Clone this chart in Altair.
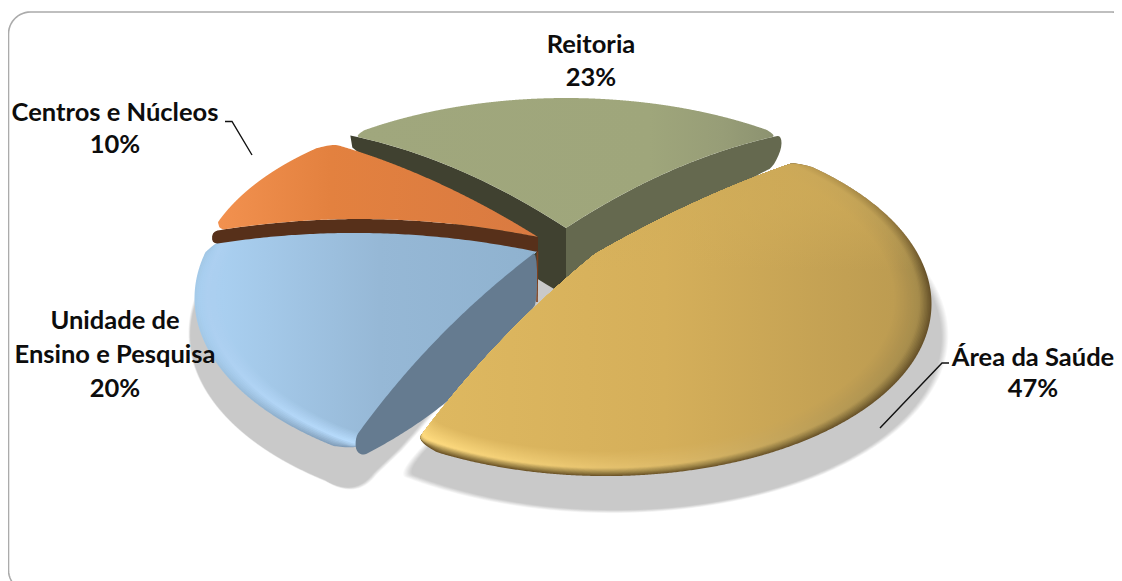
import math
import numpy as np
import altair as alt

# ---- chart values -------------------------------------------------------
CATEGORIES = ["Reitoria", "Área da Saúde", "Unidade de Ensino e Pesquisa", "Centros e Núcleos"]
SHARES = [23, 47, 20, 10]

# ---- view geometry (tilted, exploded disc), separate from the values ----
PAGE_W, PAGE_H = 1106, 573
START = -48                      # where the first slice starts, degrees clockwise from top
# the perspective of the original bends each boundary a little
BEND = {"Reitoria": (-0.5, 13.5), "Área da Saúde": (14, 3),
        "Unidade de Ensino e Pesquisa": (1, -3), "Centros e Núcleos": (-4, 0)}
APEX = {"Reitoria": (566, 228), "Área da Saúde": (595, 254),
        "Unidade de Ensino e Pesquisa": (537, 251), "Centros e Núcleos": (538, 237)}
# half width, shear, height factor of each slice's rim
LENS = {"Reitoria": (337, 0, 1.0), "Área da Saúde": (323, 8, 1.01),
        "Unidade de Ensino e Pesquisa": (331, 0, 1.05), "Centros e Núcleos": (329, 0, 1.01)}
BOW = {"Reitoria": ((0, -12), (0, -12)), "Área da Saúde": ((0, -6), (-6, -6)),
       "Unidade de Ensino e Pesquisa": ((-7, -7), (0, -17)), "Centros e Núcleos": ((0, -15), (0, -9))}
B, P = 163.4, 0.257


def boundaries():
    out, cum = {}, 0.0
    for name, share in zip(CATEGORIES, SHARES):
        a0 = START + cum * 3.6
        cum += share
        a1 = START + cum * 3.6
        out[name] = (a0 + BEND[name][0], a1 + BEND[name][1])
    return out


ANGLES = boundaries()


def rim_point(name, theta, k=1.0, apex=None):
    ax, ay = apex or APEX[name]
    a, s, h = LENS[name]
    t = math.radians(theta)
    X, Y = math.sin(t), -math.cos(t)
    w = 1 - P * Y
    return (ax + k * (a * X + s * Y) / w, ay + k * h * B * Y / w)


def edge(p0, p1, bow, n=24, umax=1.0):
    """quadratic from p0 to p1 whose midpoint is pushed by bow"""
    cx, cy = (p0[0] + p1[0]) / 2 + 2 * bow[0], (p0[1] + p1[1]) / 2 + 2 * bow[1]
    pts = []
    for u in np.linspace(0, umax, n):
        pts.append(((1 - u) ** 2 * p0[0] + 2 * u * (1 - u) * cx + u * u * p1[0],
                    (1 - u) ** 2 * p0[1] + 2 * u * (1 - u) * cy + u * u * p1[1]))
    return pts


def chaikin(pts, it=2):
    pts = list(pts)
    for _ in range(it):
        new = []
        for i in range(len(pts)):
            a, b = pts[i], pts[(i + 1) % len(pts)]
            new.append((0.75 * a[0] + 0.25 * b[0], 0.75 * a[1] + 0.25 * b[1]))
            new.append((0.25 * a[0] + 0.75 * b[0], 0.25 * a[1] + 0.75 * b[1]))
        pts = new
    return pts


def top_face(name, k=1.0, corner=3.2):
    th0, th1 = ANGLES[name]
    bow0, bow1 = BOW[name]
    apex = APEX[name]
    p0, p1 = rim_point(name, th0), rim_point(name, th1)
    d = corner + (1 - k) * 20
    e0 = edge(apex, p0, bow0, umax=min(k, 0.975))
    e1 = edge(apex, p1, bow1, umax=min(k, 0.975))
    arc = [rim_point(name, t, k) for t in np.linspace(th0 + d, th1 - d, 90)]
    return chaikin([apex, apex, apex] + e0 + arc + e1[::-1] + [apex, apex], 3)


def feature(pts):
    pts = [[round(float(x), 2), round(float(y), 2)] for x, y in pts]
    pts = pts + [pts[0]]
    return {"type": "Feature", "properties": {},
            "geometry": {"type": "Polygon", "coordinates": [pts]}}


PROJ = dict(type="identity", scale=1, translate=[-8, -8])


def shape(pts, fill, opacity=None):
    kw = {"fill": fill, "strokeWidth": 0}
    if opacity is not None:
        kw["fillOpacity"] = opacity
    return alt.Chart(alt.Data(values=[feature(pts)])).mark_geoshape(**kw).project(**PROJ)


def line(pts, color, width):
    pts = [[float(x), float(y)] for x, y in pts]
    f = {"type": "Feature", "properties": {}, "geometry": {"type": "LineString", "coordinates": pts}}
    return alt.Chart(alt.Data(values=[f])).mark_geoshape(
        filled=False, stroke=color, strokeWidth=width).project(**PROJ)


def hgrad(stops):
    return alt.Gradient(gradient="linear", x1=0, x2=1, y1=0, y2=0,
                        stops=[alt.GradientStop(offset=o, color=c) for o, c in stops])


def vgrad(stops):
    return alt.Gradient(gradient="linear", x1=0, x2=0, y1=0, y2=1,
                        stops=[alt.GradientStop(offset=o, color=c) for o, c in stops])


def mix(c1, c2, f):
    a = [int(c1[i:i + 2], 16) for i in (1, 3, 5)]
    b = [int(c2[i:i + 2], 16) for i in (1, 3, 5)]
    return "#" + "".join(f"{round(x + (y - x) * f):02x}" for x, y in zip(a, b))


def bevel(name, ramp, steps=14):
    """nested faces running from the rim to the flat of the slice"""
    out = []
    for i in range(steps + 1):
        k = ramp[0][0] + (ramp[-1][0] - ramp[0][0]) * i / steps
        for (k0, l0, m0, r0), (k1, l1, m1, r1) in zip(ramp, ramp[1:]):
            if k1 - 1e-9 <= k <= k0 + 1e-9:
                f = (k0 - k) / (k0 - k1)
                g = hgrad([(0, mix(l0, l1, f)), (0.5, mix(m0, m1, f)), (1, mix(r0, r1, f))])
                out.append(shape(top_face(name, k), g))
                break
    return out


def soft(pts, ks=(1.016, 1.012, 1.008, 1.004, 1.0, 0.996, 0.992, 0.988)):
    cx = sum(p[0] for p in pts) / len(pts)
    cy = sum(p[1] for p in pts) / len(pts)
    return [shape([(cx + k * (x - cx), cy + k * (y - cy)) for x, y in pts], "#000000", 0.028) for k in ks]


RE, SA, UN, CE = CATEGORIES
layers = []

# card
r, L, T, R, Bt = 22, 8.5, 12, 1134, 592
corner_pts = []
for cx, cy, a0 in ((L + r, T + r, 180), (R - r, T + r, 270), (R - r, Bt - r, 0), (L + r, Bt - r, 90)):
    for a in np.linspace(a0, a0 + 90, 14):
        corner_pts.append((cx + r * math.cos(math.radians(a)), cy + r * math.sin(math.radians(a))))
layers.append(line(corner_pts + [corner_pts[0]], "#ababab", 1.6))

# shadows
sa_ap = (APEX[SA][0] + 8, APEX[SA][1] + 32)
th0, th1 = ANGLES[SA]
sa_arc = [rim_point(SA, t, 1.015, sa_ap) for t in np.linspace(th0, th1 + 1.5, 80)]
sa_end = sa_arc[-1]
sa_tip = edge(sa_end, (sa_end[0] + 18, sa_end[1] - 32), (-9, 6))
layers += soft(chaikin([sa_ap] + sa_arc + sa_tip))

un_ap = (APEX[UN][0] - 5, APEX[UN][1] + 36)
th0, th1 = ANGLES[UN]
un_arc = [rim_point(UN, t, 1.0, un_ap) for t in np.linspace(th1, th0 + 4, 60)]
un_tail = edge(un_arc[-1], (un_arc[-1][0] + 50, un_arc[-1][1] - 7), (3, 11))
layers += soft(chaikin([un_ap] + un_arc + un_tail + [(un_arc[-1][0] + 90, un_arc[-1][1] - 45)]))
layers.append(shape([(537, 278), (575, 285), (545, 320), (528, 310)], "#c9c9c9"))

# Reitoria walls and top
ra = APEX[RE]
r0, r1 = rim_point(RE, ANGLES[RE][0]), rim_point(RE, ANGLES[RE][1])
wall_low = (ra[0], ra[1] + 68)
layers.append(shape(edge(ra, r0, BOW[RE][0]) + edge((r0[0] + 2, r0[1] + 12), wall_low, (0, 6))
                    + [(ra[0] + 4, ra[1] + 68), (ra[0] + 4, ra[1])], "#404130"))
right_low = (r1[0] - 8, r1[1] + 32)
layers.append(shape(chaikin([ra, ra] + edge(ra, r1, BOW[RE][1]) + [(r1[0] + 1, r1[1] + 13)]
                            + edge(right_low, wall_low, (0, -6)) + [wall_low, wall_low]), "#65694f"))
layers.append(shape(top_face(RE), hgrad([(0, "#a0a77d"), (0.7, "#9fa67b"), (0.88, "#979d77"), (1, "#8c9270")])))

# Unidade top, brown back wall line
ua = APEX[UN]
u1 = rim_point(UN, ANGLES[UN][0])
wall_end = (ua[0], ua[1] + 51)
layers.append(line([(ua[0] + 0.5, ua[1]), wall_end], "#7d3f1d", 1.6))
layers += bevel(UN, [(1.0, "#a5cbea", "#7a95b0", "#8ba7c2"),
                     (0.985, "#a9cff0", "#95b3d0", "#8ba7c2"),
                     (0.965, "#accff0", "#b9deff", "#8fb2cf"),
                     (0.92, "#a9cff0", "#96b8d6", "#8fb2cf")])
# Unidade wall sits over the tip of the rim
inner = (u1[0] + 1, u1[1] - 17)
tip = (u1[0] + 8, u1[1] + 2)
un_wall = edge(ua, inner, (-7, -7)) + [(u1[0] + 1, u1[1] - 3)] + edge(tip, wall_end, (11, 11))
layers.append(shape(chaikin(un_wall, 2), "#657b90"))

# Centros wall and top
ca = APEX[CE]
c0 = rim_point(CE, ANGLES[CE][0])
low_e = edge(c0, ca, (0, -15))
layers.append(shape(chaikin(low_e + [ca, ca, (ca[0], ca[1] + 15), (ca[0], ca[1] + 15)]
                            + edge((ca[0], ca[1] + 15), (c0[0], c0[1] + 13), (0, -15))), "#57301a"))
layers.append(shape(top_face(CE), hgrad([(0, "#f2914f"), (0.35, "#e3813f"), (1, "#d97a41")])))

# Área da Saúde
layers += bevel(SA, [(1.0, "#6e5527", "#6f5729", "#67522a"),
                     (0.985, "#a68c4d", "#a08748", "#826c39"),
                     (0.965, "#ffdb7f", "#dcb968", "#a58b4b"),
                     (0.89, "#deb860", "#d5af5a", "#bd9c51")], steps=26)
layers.append(shape(top_face(SA, 1.0), vgrad([(0, "rgba(206,170,88,0.85)"), (0.14, "rgba(210,174,90,0.5)"),
                                                (0.34, "rgba(212,175,90,0)"), (1, "rgba(212,175,90,0)")])))

# leader lines
layers.append(line([(225, 121.5), (232, 121.5), (252, 155)], "#111111", 1.4))
layers.append(line([(949, 363), (942, 363), (880, 428)], "#111111", 1.4))

# labels
LABEL_LINES = {RE: (["Reitoria"], 591, [45]),
               CE: (["Centros e Núcleos"], 115, [113]),
               UN: (["Unidade de", "Ensino e Pesquisa"], 115, [321, 355]),
               SA: (["Área da Saúde"], 1033, [358])}
PERCENT_Y = {RE: 78, CE: 145, UN: 389, SA: 389}
rows = []
for name, share in zip(CATEGORIES, SHARES):
    texts, x, ys = LABEL_LINES[name]
    for t, y in zip(texts, ys):
        rows.append({"t": t, "lon": x, "lat": y})
    rows.append({"t": f"{share}%", "lon": x, "lat": PERCENT_Y[name]})

labels = alt.Chart(alt.Data(values=rows)).mark_text(
    font="Lato", fontWeight="bold", fontSize=25.5, color="#0d0d0d", align="center", baseline="middle"
).encode(longitude="lon:Q", latitude="lat:Q", text="t:N").project(**PROJ)
layers.append(labels)

chart = alt.layer(*layers).properties(
    width=PAGE_W, height=PAGE_H, padding=0, background="#ffffff",
    autosize=alt.AutoSizeParams(type="none"),
).configure_view(stroke=None)

chart.save("out.html", embed_options={"renderer": "svg", "actions": False})
